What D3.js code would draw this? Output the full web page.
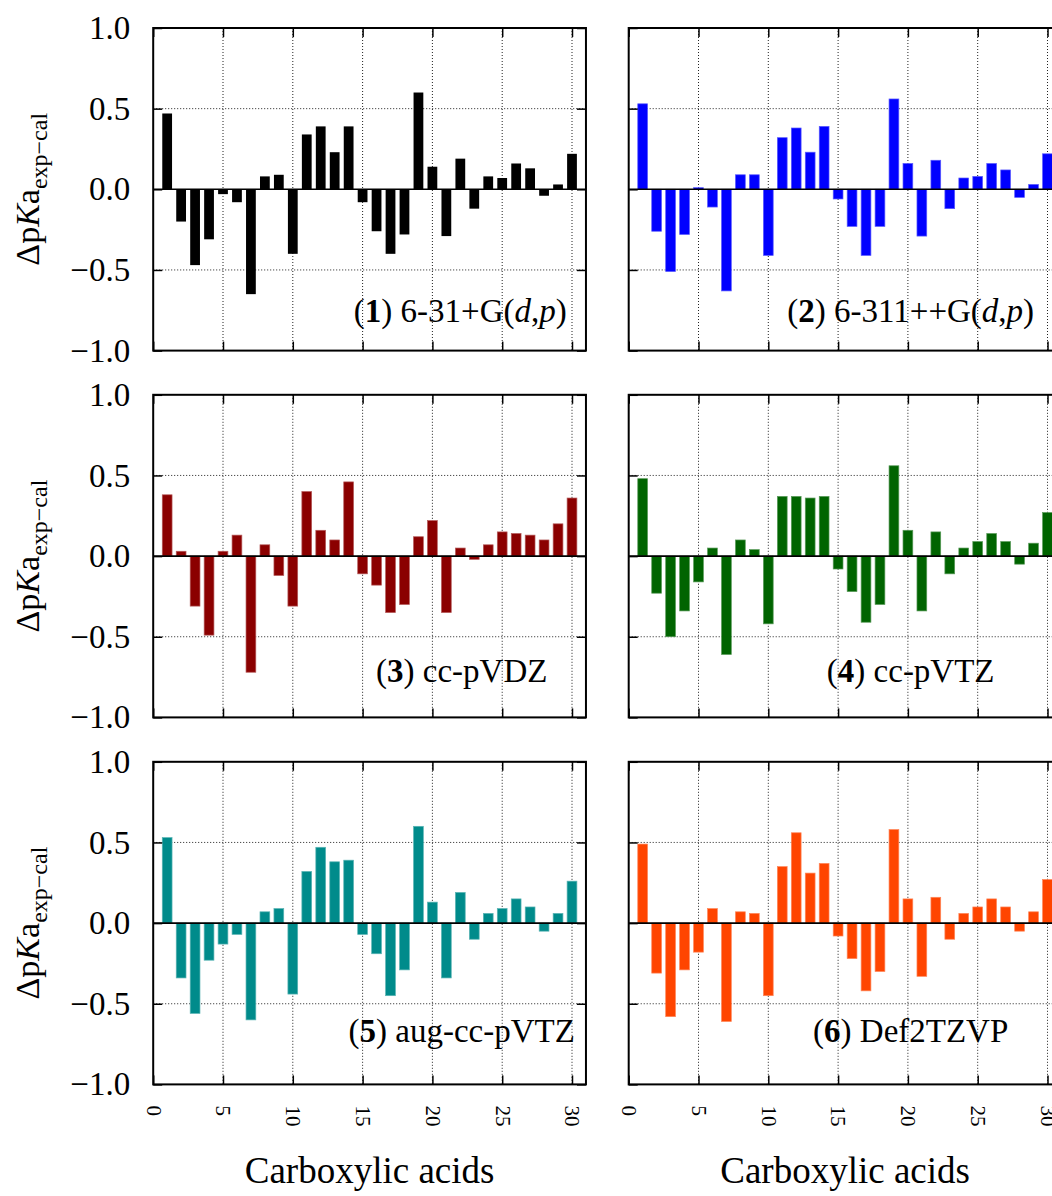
<!DOCTYPE html>
<html>
<head>
<meta charset="utf-8">
<title>pKa deviations per basis set</title>
<script src="https://d3js.org/d3.v7.min.js"></script>
<style>
  body { margin: 0; background: #fff; }
  svg { display: block; font-family: "Liberation Serif", "DejaVu Serif", serif; }
</style>
</head>
<body>
<script>
// carboxylic acid index (x categories)
var acids = [1,2,3,4,5,6,7,8,9,10,11,12,13,14,15,16,17,18,19,20,21,22,23,24,25,26,27,28,29,30];

// basis sets, in panel order
var basisNum  = ["1", "2", "3", "4", "5", "6"];
var basisName = ["6-31+G(d,p)", "6-311++G(d,p)", "cc-pVDZ", "cc-pVTZ", "aug-cc-pVTZ", "Def2TZVP"];
var basisColor = ["#000000", "#0000ff", "#8b0000", "#006400", "#008b8b", "#ff4500"];

// ΔpKa (exp - cal)
var dpka1 = [0.47,-0.20,-0.47,-0.31,-0.03,-0.08,-0.65,0.08,0.09,-0.40,0.34,0.39,0.23,0.39,-0.08,-0.26,-0.40,-0.28,0.60,0.14,-0.29,0.19,-0.12,0.08,0.07,0.16,0.13,-0.04,0.03,0.22];
var dpka2 = [0.53,-0.26,-0.51,-0.28,0.01,-0.11,-0.63,0.09,0.09,-0.41,0.32,0.38,0.23,0.39,-0.06,-0.23,-0.41,-0.23,0.56,0.16,-0.29,0.18,-0.12,0.07,0.08,0.16,0.12,-0.05,0.03,0.22];
var dpka3 = [0.38,0.03,-0.31,-0.49,0.03,0.13,-0.72,0.07,-0.12,-0.31,0.40,0.16,0.10,0.46,-0.11,-0.18,-0.35,-0.30,0.12,0.22,-0.35,0.05,-0.02,0.07,0.15,0.14,0.13,0.10,0.20,0.36];
var dpka4 = [0.48,-0.23,-0.50,-0.34,-0.16,0.05,-0.61,0.10,0.04,-0.42,0.37,0.37,0.36,0.37,-0.08,-0.22,-0.41,-0.30,0.56,0.16,-0.34,0.15,-0.11,0.05,0.09,0.14,0.09,-0.05,0.08,0.27];
var dpka5 = [0.53,-0.34,-0.56,-0.23,-0.13,-0.07,-0.60,0.07,0.09,-0.44,0.32,0.47,0.38,0.39,-0.07,-0.19,-0.45,-0.29,0.60,0.13,-0.34,0.19,-0.10,0.06,0.09,0.15,0.10,-0.05,0.06,0.26];
var dpka6 = [0.49,-0.31,-0.58,-0.29,-0.18,0.09,-0.61,0.07,0.06,-0.45,0.35,0.56,0.31,0.37,-0.08,-0.22,-0.42,-0.30,0.58,0.15,-0.33,0.16,-0.10,0.06,0.10,0.15,0.10,-0.05,0.07,0.27];
var allSeries = [dpka1, dpka2, dpka3, dpka4, dpka5, dpka6];

var xTicks = [0, 5, 10, 15, 20, 25, 30];
var yTicks = [-1.0, -0.5, 0.0, 0.5, 1.0];
var xTitle = "Carboxylic acids";

// layout
var w = 1052, h = 1196;
var colLeft = [153.2, 628.7];
var rowTop = [28, 394.8, 761.8];
var pw = 31 * 13.96;   // panel width (x domain 0..31)
var ph = 322.6;
var tick = 9;
// where the label sits inside each panel (data units: centre x, baseline y)
var labelPos = [[22.0, -0.82], [20.2, -0.82], [22.1, -0.78], [20.2, -0.78], [22.1, -0.735], [20.2, -0.735]];

var svg = d3.select("body").append("svg")
  .attr("width", w)
  .attr("height", h);

allSeries.forEach(function(vals, k){
  var col = k % 2, row = Math.floor(k / 2);
  var x0 = colLeft[col], y0 = rowTop[row];

  var x = d3.scaleLinear().domain([0, 31]).range([0, pw]);
  var y = d3.scaleLinear().domain([-1, 1]).range([ph, 0]);

  var g = svg.append("g").attr("transform", "translate(" + x0 + "," + y0 + ")");

  // dotted grid
  g.selectAll("line.vgrid")
    .data(xTicks.filter(function(t){ return t > 0; }))
    .enter().append("line")
    .attr("x1", function(d){ return x(d); }).attr("x2", function(d){ return x(d); })
    .attr("y1", 0).attr("y2", ph)
    .attr("stroke", "#222").attr("stroke-width", 1).attr("stroke-dasharray", "1,2");
  g.selectAll("line.hgrid")
    .data([-0.5, 0.5])
    .enter().append("line")
    .attr("x1", 0).attr("x2", pw)
    .attr("y1", function(d){ return y(d); }).attr("y2", function(d){ return y(d); })
    .attr("stroke", "#222").attr("stroke-width", 1).attr("stroke-dasharray", "1,2");

  // bars
  var bw = x(0.7) - x(0);
  g.selectAll("rect.bar")
    .data(vals)
    .enter().append("rect")
    .attr("x", function(d, i){ return x(acids[i]) - bw / 2; })
    .attr("width", bw)
    .attr("y", function(d){ return y(Math.max(d, 0)); })
    .attr("height", function(d){ return Math.abs(y(d) - y(0)); })
    .attr("fill", basisColor[k])
    .attr("stroke", d3.interpolateRgb(basisColor[k], "#fff")(0.35))
    .attr("stroke-width", k == 0 ? 0 : 0.7);

  // zero line
  g.append("line")
    .attr("x1", 0).attr("x2", pw)
    .attr("y1", y(0)).attr("y2", y(0))
    .attr("stroke", "#000").attr("stroke-width", 1.6);

  // inward ticks on all four sides
  var xAxisB = g.append("g").attr("transform", "translate(0," + ph + ")")
    .call(d3.axisBottom(x).tickValues(xTicks).tickSizeInner(-tick).tickSizeOuter(0).tickFormat(""));
  var xAxisT = g.append("g")
    .call(d3.axisTop(x).tickValues(xTicks).tickSizeInner(-tick).tickSizeOuter(0).tickFormat(""));
  var yAxisL = g.append("g")
    .call(d3.axisLeft(y).tickValues(yTicks).tickSizeInner(-tick).tickSizeOuter(0)
      .tickPadding(23).tickFormat(col == 0 ? d3.format(".1f") : ""));
  var yAxisR = g.append("g").attr("transform", "translate(" + pw + ",0)")
    .call(d3.axisRight(y).tickValues(yTicks).tickSizeInner(-tick).tickSizeOuter(0).tickFormat(""));
  [xAxisB, xAxisT, yAxisL, yAxisR].forEach(function(a){
    a.select(".domain").remove();
    a.selectAll(".tick line").attr("stroke", "#000").attr("stroke-width", 1.5);
  });
  yAxisL.selectAll("text")
    .attr("font-family", "Liberation Serif")
    .attr("font-size", 33)
    .attr("fill", "#000");

  // rotated x tick labels on the bottom row
  if (row == 2) {
    xAxisB.selectAll(".tick text")
      .text(function(d){ return d; })
      .attr("font-family", "Liberation Serif")
      .attr("font-size", 21)
      .attr("fill", "#000")
      .attr("transform", "rotate(90)")
      .attr("x", 21)
      .attr("y", 0)
      .attr("dy", "0.34em")
      .style("text-anchor", "start");

    g.append("text")
      .attr("x", pw / 2)
      .attr("y", ph + 98.5)
      .attr("text-anchor", "middle")
      .attr("font-size", 37)
      .text(xTitle);
  }

  // frame
  g.append("rect")
    .attr("x", 0).attr("y", 0).attr("width", pw).attr("height", ph)
    .attr("fill", "none").attr("stroke", "#000").attr("stroke-width", 2);

  // panel label, e.g. (1) 6-31+G(d,p)
  var lab = g.append("text")
    .attr("x", x(labelPos[k][0]))
    .attr("y", y(labelPos[k][1]))
    .attr("text-anchor", "middle")
    .attr("font-size", 33);
  lab.append("tspan").text("(");
  lab.append("tspan").attr("font-weight", "bold").text(basisNum[k]);
  lab.append("tspan").text(") ");
  // italic d and p inside the Pople names
  var m = basisName[k].match(/^(.*\()d,p\)$/);
  if (m) {
    lab.append("tspan").text(m[1]);
    lab.append("tspan").attr("font-style", "italic").text("d");
    lab.append("tspan").text(",");
    lab.append("tspan").attr("font-style", "italic").text("p");
    lab.append("tspan").text(")");
  } else {
    lab.append("tspan").text(basisName[k]);
  }

  // y axis title on the left column
  if (col == 0) {
    var yt = svg.append("text")
      .attr("transform", "translate(39," + (y0 + ph / 2) + ") rotate(-90)")
      .attr("text-anchor", "middle")
      .attr("font-size", 34);
    yt.append("tspan").text("Δp");
    yt.append("tspan").attr("font-style", "italic").text("K");
    yt.append("tspan").text("a");
    yt.append("tspan").attr("font-size", 24).attr("dy", 8).text("exp−cal");
  }
});
</script>
</body>
</html>
